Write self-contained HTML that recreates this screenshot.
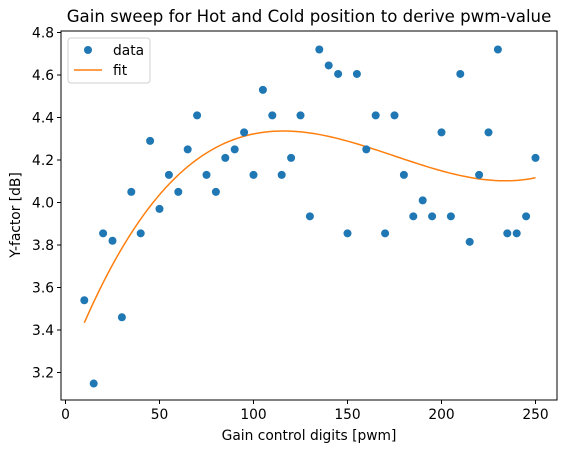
<!DOCTYPE html>
<html><head><meta charset="utf-8"><style>
body{margin:0;background:#fff;font-family:"Liberation Sans","DejaVu Sans",sans-serif}
svg text{font-family:"DejaVu Sans","Liberation Sans",sans-serif}
</style></head><body>
<svg id="chart" width="567" height="453" xmlns="http://www.w3.org/2000/svg">
<text x="309" y="22" font-size="16.6" text-anchor="middle">Gain sweep for Hot and Cold position to derive pwm-value</text>
<g id="plot"></g>
<rect x="61" y="31" width="496" height="369" fill="none" stroke="#000" stroke-width="1"/>
<text x="309" y="440" font-size="13.8" text-anchor="middle">Gain control digits [pwm]</text>
<text transform="translate(20,215) rotate(-90)" font-size="13.8" text-anchor="middle">Y-factor [dB]</text>
<g>
<rect x="68" y="38" width="82" height="45" rx="3" fill="#fff" stroke="#ccc" opacity="0.9"/>
<circle cx="88" cy="50" r="4" fill="#1f77b4"/>
<text x="113" y="55" font-size="13.8">data</text>
<line x1="74" y1="70" x2="102" y2="70" stroke="#ff7f0e" stroke-width="1.5"/>
<text x="113" y="75" font-size="13.8">fit</text>
</g>
</svg>
<script>
const xValues=[10,15,20,25,30,35,40,45,50,55,60,65,70,75,80,85,90,95,100,105,110,115,120,125,130,135,140,145,150,155,160,165,170,175,180,185,190,195,200,205,210,215,220,225,230,235,240,245,250];
const yValues=[3.54,3.148,3.855,3.82,3.46,4.05,3.855,4.29,3.97,4.13,4.05,4.25,4.41,4.13,4.05,4.21,4.25,4.33,4.13,4.53,4.41,4.13,4.21,4.41,3.935,4.72,4.645,4.605,3.855,4.605,4.25,4.41,3.855,4.41,4.13,3.935,4.01,3.935,4.33,3.935,4.605,3.815,4.13,4.33,4.72,3.855,3.855,3.935,4.21];
const xTicks=[0,50,100,150,200,250];
const yTicks=[3.2,3.4,3.6,3.8,4.0,4.2,4.4,4.6,4.8];
const NS="http://www.w3.org/2000/svg";
const X=v=>65.5+v*1.88;
const Y=v=>372.5-(v-3.2)*212.5;
const g=document.getElementById('plot');
function mk(t,a){const e=document.createElementNS(NS,t);for(const k in a)e.setAttribute(k,a[k]);g.appendChild(e);return e;}
xTicks.forEach(t=>{
 const l=mk('line',{x1:X(t),x2:X(t),y1:400,y2:404,stroke:'#000'});
 
 
 const tx=mk('text',{x:X(t),y:419,'font-size':13.8,'text-anchor':'middle'});tx.textContent=t;
 
 
});
yTicks.forEach(t=>{
 const l=mk('line',{x1:57,x2:61,y1:Y(t),y2:Y(t),stroke:'#000'});
 
 
 const tx=mk('text',{x:54,y:Y(t)+5,'font-size':13.8,'text-anchor':'end'});tx.textContent=t.toFixed(1);
 
 
});
const n=4,A=[...Array(n)].map(()=>Array(n+1).fill(0));
const s=v=>v/100;
xValues.forEach((x,i)=>{for(let r=0;r<n;r++){for(let c=0;c<n;c++)A[r][c]+=Math.pow(s(x),r+c);A[r][n]+=Math.pow(s(x),r)*yValues[i];}});
for(let i=0;i<n;i++){let p=i;for(let k=i+1;k<n;k++)if(Math.abs(A[k][i])>Math.abs(A[p][i]))p=k;[A[i],A[p]]=[A[p],A[i]];
 for(let k=0;k<n;k++)if(k!==i){const f=A[k][i]/A[i][i];for(let c=i;c<=n;c++)A[k][c]-=f*A[i][c];}}
const coef=A.map((r,i)=>r[n]/r[i]);
const f=x=>coef.reduce((a,c,i)=>a+c*Math.pow(s(x),i),0);
let d='';const x0=xValues[0],x1=xValues[xValues.length-1];
for(let k=0;k<=100;k++){const x=x0+(x1-x0)*k/100;d+=(k?'L':'M')+X(x).toFixed(2)+','+Y(f(x)).toFixed(2);}
const fl=mk('path',{d:d,fill:'none',stroke:'#ff7f0e','stroke-width':1.5});


xValues.forEach((x,i)=>{
 const c=mk('circle',{cx:X(x),cy:Y(yValues[i]),r:4,fill:'#1f77b4'});
 
 
});
</script>
</body></html>
